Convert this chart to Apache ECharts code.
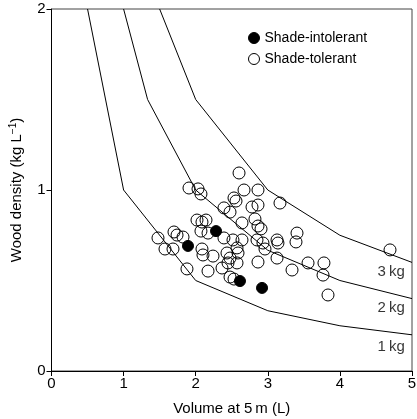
<!DOCTYPE html>
<html>
<head>
<meta charset="utf-8">
<script src="https://cdn.jsdelivr.net/npm/echarts@6/dist/echarts.min.js"></script>
<style>html,body{margin:0;padding:0;background:#fff}#c{width:417px;height:419px}</style>
</head>
<body>
<div id="c"></div>
<script>
const xTicks = [0, 1, 2, 3, 4, 5];
const yTicks = [0, 1, 2];

const curve1kg = [[0.5, 2], [1, 1], [2, 0.5], [3, 0.333], [4, 0.25], [5, 0.2]];
const curve2kg = [[1, 2], [1.333, 1.5], [2, 1], [3, 0.667], [4, 0.5], [5, 0.4]];
const curve3kg = [[1.5, 2], [2, 1.5], [3, 1], [4, 0.75], [5, 0.6]];

const curveLabels = ['3\u2009kg', '2\u2009kg', '1\u2009kg'];
const curveLabelPos = [[4.9, 0.547], [4.9, 0.348], [4.9, 0.133]];

const shadeIntolerant = [[1.893, 0.691], [2.282, 0.773], [2.614, 0.497], [2.920, 0.459]];

const shadeTolerant = [
  [1.477, 0.735], [1.574, 0.674], [1.699, 0.768], [1.741, 0.751], [1.824, 0.740],
  [1.685, 0.674], [1.879, 0.564], [1.907, 1.011], [2.032, 1.006], [2.073, 0.978],
  [2.018, 0.834], [2.087, 0.823], [2.143, 0.834], [2.073, 0.773], [2.171, 0.762],
  [2.087, 0.674], [2.101, 0.641], [2.240, 0.635], [2.171, 0.552], [2.365, 0.569],
  [2.392, 0.901], [2.476, 0.878], [2.392, 0.735], [2.517, 0.724], [2.642, 0.724],
  [2.573, 0.680], [2.434, 0.652], [2.587, 0.652], [2.476, 0.624], [2.448, 0.597],
  [2.573, 0.597], [2.476, 0.519], [2.531, 0.508], [2.601, 1.094], [2.670, 1.000],
  [2.864, 1.000], [2.531, 0.956], [2.559, 0.939], [2.781, 0.906], [2.864, 0.917],
  [3.169, 0.928], [2.642, 0.818], [2.822, 0.840], [2.864, 0.801], [2.906, 0.785],
  [2.850, 0.724], [2.933, 0.707], [2.961, 0.674], [3.128, 0.724], [3.141, 0.707],
  [3.405, 0.762], [3.391, 0.713], [2.864, 0.602], [3.128, 0.624], [3.336, 0.558],
  [3.558, 0.597], [3.779, 0.597], [3.766, 0.530], [3.835, 0.420], [4.695, 0.669]
];

const FONT = '"Liberation Sans", Arial, Helvetica, sans-serif';

const chart = echarts.init(document.getElementById('c'), null, {renderer: 'canvas'});

function curveSeries(data) {
  return {
    type: 'line', data: data, symbol: 'none', silent: true,
    lineStyle: {color: '#000', width: 1}, z: 1, animation: false
  };
}

chart.setOption({
  animation: false,
  backgroundColor: '#fff',
  textStyle: {fontFamily: FONT},
  grid: {left: 51.5, right: 5, top: 9, bottom: 48, show: true, borderColor: '#444', borderWidth: 1,
    containLabel: false, outerBoundsMode: 'none'},
  legend: {
    orient: 'vertical', left: 243, top: 26, itemWidth: 11, itemHeight: 11, itemGap: 7,
    icon: 'circle',
    textStyle: {fontFamily: FONT, fontSize: 14, color: '#000'},
    data: [
      {name: 'Shade-intolerant', itemStyle: {color: '#000', opacity: 1, borderColor: '#000', borderWidth: 1}},
      {name: 'Shade-tolerant', itemStyle: {color: 'rgba(0,0,0,0)', borderColor: '#000', borderWidth: 1}}
    ]
  },
  xAxis: {
    type: 'value', min: xTicks[0], max: xTicks[xTicks.length - 1], interval: 1,
    name: 'Volume at 5\u2009m (L)', nameLocation: 'middle', nameGap: 30,
    nameTextStyle: {fontFamily: FONT, fontSize: 15, color: '#000'},
    axisLine: {show: true, onZero: false, lineStyle: {color: '#000', width: 1}},
    axisTick: {show: true, inside: false, length: 5, lineStyle: {color: '#000'}},
    axisLabel: {fontFamily: FONT, fontSize: 15, color: '#000', margin: 5},
    splitLine: {show: false}
  },
  yAxis: {
    type: 'value', min: yTicks[0], max: yTicks[yTicks.length - 1], interval: 1,
    name: 'Wood density (kg L{sup|\u22121})', nameLocation: 'middle', nameGap: 26, nameRotate: 90,
    nameTextStyle: {fontFamily: FONT, fontSize: 15, color: '#000',
      rich: {sup: {fontFamily: FONT, fontSize: 10, color: '#000', verticalAlign: 'top', padding: [0, 0, 7, 0]}}},
    axisLine: {show: true, onZero: false, lineStyle: {color: '#000', width: 1}},
    axisTick: {show: true, inside: false, length: 5, lineStyle: {color: '#000'}},
    axisLabel: {fontFamily: FONT, fontSize: 15, color: '#000', margin: 6},
    splitLine: {show: false}
  },
  series: [
    curveSeries(curve1kg),
    curveSeries(curve2kg),
    curveSeries(curve3kg),
    {
      type: 'scatter', silent: true, z: 3,
      data: curveLabelPos.map((p, i) => ({value: p, name: curveLabels[i]})),
      symbolSize: 0,
      label: {show: true, position: 'left', distance: 0, formatter: '{b}',
        fontFamily: FONT, fontSize: 15, color: '#000'}
    },
    {
      name: 'Shade-tolerant', type: 'scatter', data: shadeTolerant, symbol: 'circle', symbolSize: 12,
      itemStyle: {color: 'rgba(0,0,0,0)', borderColor: '#000', borderWidth: 1, opacity: 1}, z: 4
    },
    {
      name: 'Shade-intolerant', type: 'scatter', data: shadeIntolerant, symbol: 'circle', symbolSize: 11,
      itemStyle: {color: '#000', borderColor: '#000', borderWidth: 1, opacity: 1}, z: 5
    }
  ]
});
</script>
</body>
</html>
